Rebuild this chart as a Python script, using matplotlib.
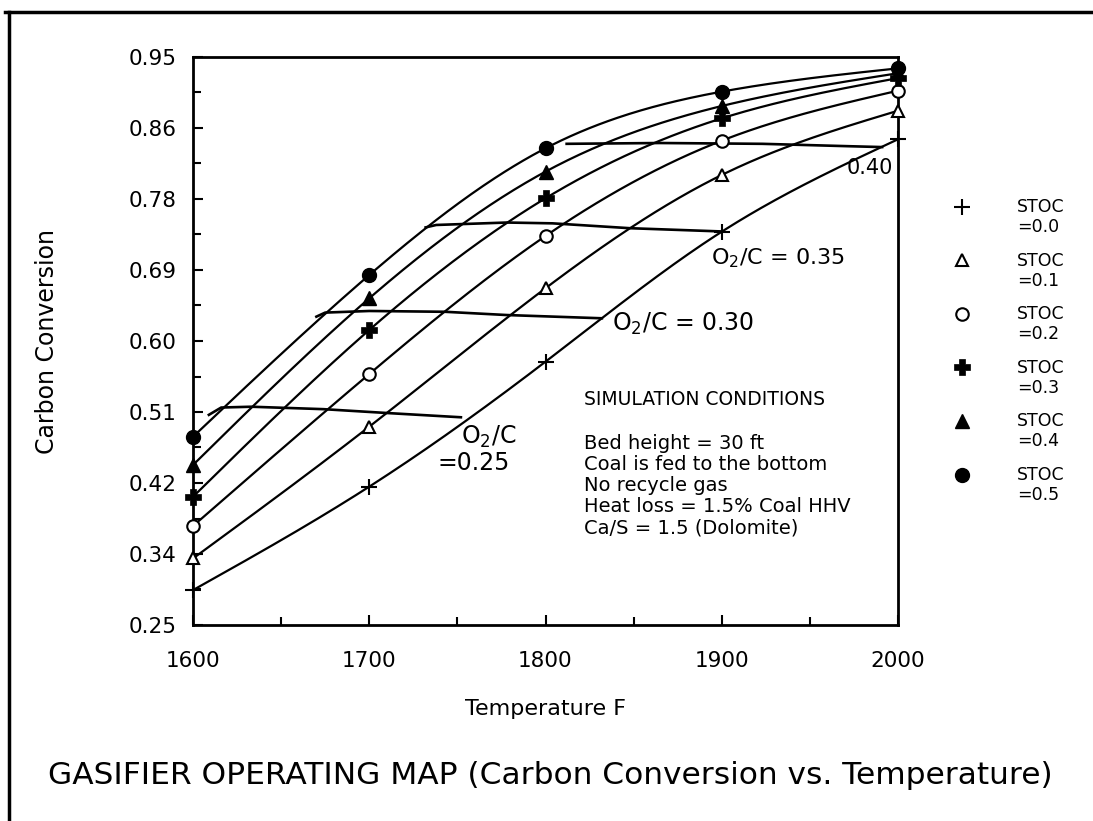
import numpy as np
import matplotlib
matplotlib.use("Agg")
import matplotlib.pyplot as plt
from matplotlib.lines import Line2D

# ---------------- data ----------------
temps = [1600, 1700, 1800, 1900, 2000]
stoc_labels = ["0.0", "0.1", "0.2", "0.3", "0.4", "0.5"]
conv_stoc00 = [0.293, 0.4205, 0.5745, 0.7347, 0.8486]
conv_stoc01 = [0.332, 0.4944, 0.665, 0.8046, 0.8838]
conv_stoc02 = [0.372, 0.5593, 0.7294, 0.8469, 0.9085]
conv_stoc03 = [0.408, 0.6136, 0.7759, 0.8744, 0.924]
conv_stoc04 = [0.4472, 0.6526, 0.8087, 0.8896, 0.930]
conv_stoc05 = [0.482, 0.6813, 0.8375, 0.9073, 0.936]

# constant O2/C lines (temperature, conversion)
o2c_025_T = [1609, 1616, 1633, 1674, 1712, 1752]
o2c_025_C = [0.509, 0.518, 0.519, 0.516, 0.511, 0.506]
o2c_030_T = [1670, 1675, 1700, 1743, 1778, 1832]
o2c_030_C = [0.630, 0.635, 0.637, 0.636, 0.632, 0.628]
o2c_035_T = [1732, 1738, 1778, 1804, 1848, 1900]
o2c_035_C = [0.740, 0.743, 0.746, 0.745, 0.739, 0.735]
o2c_040_T = [1812, 1865, 1923, 1973, 1991]
o2c_040_C = [0.843, 0.844, 0.843, 0.840, 0.839]

ytick_vals = [0.25, 0.3375, 0.425, 0.5125, 0.60, 0.6875, 0.775, 0.8625, 0.95]
ytick_labels = ["0.25", "0.34", "0.42", "0.51", "0.60", "0.69", "0.78", "0.86", "0.95"]
xtick_vals = [1600, 1700, 1800, 1900, 2000]

sim_lines = ["Bed height = 30 ft", "Coal is fed to the bottom", "No recycle gas",
             "Heat loss = 1.5% Coal HHV", "Ca/S = 1.5 (Dolomite)"]

series = [conv_stoc00, conv_stoc01, conv_stoc02, conv_stoc03, conv_stoc04, conv_stoc05]
styles = [
    dict(marker="+", ms=12, mew=1.5, mfc="black"),
    dict(marker="^", ms=9, mew=1.5, mfc="white"),
    dict(marker="o", ms=9, mew=1.5, mfc="white"),
    dict(marker="P", ms=11, mew=0.5, mfc="black"),
    dict(marker="^", ms=10, mew=1.0, mfc="black"),
    dict(marker="o", ms=10, mew=1.0, mfc="black"),
]


def natural_spline(x, y, xs):
    x = np.asarray(x, float)
    y = np.asarray(y, float)
    n = len(x)
    h = np.diff(x)
    A = np.zeros((n, n))
    b = np.zeros(n)
    A[0, 0] = A[-1, -1] = 1.0
    for i in range(1, n - 1):
        A[i, i - 1] = h[i - 1]
        A[i, i] = 2 * (h[i - 1] + h[i])
        A[i, i + 1] = h[i]
        b[i] = 6 * ((y[i + 1] - y[i]) / h[i] - (y[i] - y[i - 1]) / h[i - 1])
    M = np.linalg.solve(A, b)
    idx = np.clip(np.searchsorted(x, xs) - 1, 0, n - 2)
    x0, x1 = x[idx], x[idx + 1]
    hh = x1 - x0
    t0 = x1 - xs
    t1 = xs - x0
    return (M[idx] * t0 ** 3 / (6 * hh) + M[idx + 1] * t1 ** 3 / (6 * hh)
            + (y[idx] / hh - M[idx] * hh / 6) * t0
            + (y[idx + 1] / hh - M[idx + 1] * hh / 6) * t1)


W, H = 1093, 821
fig = plt.figure(figsize=(W / 100, H / 100), dpi=100)
ax = fig.add_axes([193 / W, 1 - 625 / H, (898 - 193) / W, (625 - 57) / H])

xs = np.linspace(temps[0], temps[-1], 300)
for vals, st in zip(series, styles):
    ax.plot(xs, natural_spline(temps, vals, xs), color="black", lw=1.6)
    ax.plot(temps, vals, linestyle="none", color="black", clip_on=False, zorder=5, **st)

for T, C in [(o2c_025_T, o2c_025_C), (o2c_030_T, o2c_030_C),
             (o2c_035_T, o2c_035_C), (o2c_040_T, o2c_040_C)]:
    ax.plot(T, C, color="black", lw=1.9)

ax.set_xlim(1600, 2000)
ax.set_ylim(0.25, 0.95)
ax.set_xticks(xtick_vals)
ax.set_xticks([1650, 1750, 1850, 1950], minor=True)
ax.set_yticks(ytick_vals)
ax.set_yticklabels(ytick_labels)
ax.set_yticks([(a + b) / 2 for a, b in zip(ytick_vals[:-1], ytick_vals[1:])], minor=True)
ax.tick_params(which="both", direction="in", width=1.5, labelsize=15.5)
ax.tick_params(which="major", length=7)
ax.tick_params(which="minor", length=6)
ax.tick_params(axis="x", pad=19)
ax.tick_params(axis="y", pad=12)
for sp in ax.spines.values():
    sp.set_linewidth(2)

ax.set_xlabel("Temperature F", fontsize=16)
ax.xaxis.set_label_coords(0.5, -0.13)
ax.set_ylabel("Carbon Conversion", fontsize=17)
ax.yaxis.set_label_coords(-0.19, 0.5)

# O2/C annotations
ax.text(1997, 0.813, "0.40", fontsize=15, ha="right", va="center")
ax.text(1894, 0.702, "O$_2$/C = 0.35", fontsize=16, ha="left", va="center")
ax.text(1838, 0.621, "O$_2$/C = 0.30", fontsize=17, ha="left", va="center")
ax.text(1752, 0.482, "O$_2$/C", fontsize=17, ha="left", va="center")
ax.text(1739, 0.4497, "=0.25", fontsize=17, ha="left", va="center")

# simulation conditions
ax.text(1822, 0.5273, "SIMULATION CONDITIONS", fontsize=13.5, ha="left", va="center")
sim_y = [0.474, 0.4484, 0.4225, 0.3958, 0.369]
for yv, s in zip(sim_y, sim_lines):
    ax.text(1822, yv, s, fontsize=14, ha="left", va="center")

# legend (outside axes)
for i, (lab, st) in enumerate(zip(stoc_labels, styles)):
    ypx = 207 + i * 53.5
    fig.add_artist(Line2D([962 / W], [1 - ypx / H], transform=fig.transFigure,
                          color="black", linestyle="none", **st))
    fig.text(1017 / W, 1 - ypx / H, "STOC", fontsize=12.5, fontweight="medium",
             ha="left", va="center")
    fig.text(1017 / W, 1 - (ypx + 20) / H, "=" + lab, fontsize=12.5, fontweight="medium",
             ha="left", va="center")

fig.text(550 / W, 1 - 775 / H, "GASIFIER OPERATING MAP (Carbon Conversion vs. Temperature)",
         fontsize=22.5, ha="center", va="center")

# page frame
fig.add_artist(Line2D([5 / W, 1.0], [1 - 12 / H, 1 - 12 / H], transform=fig.transFigure,
                      color="black", lw=2.5))
fig.add_artist(Line2D([9 / W, 9 / W], [0.0, 1 - 12 / H], transform=fig.transFigure,
                      color="black", lw=2.5))

fig.savefig("out.png", dpi=100)
